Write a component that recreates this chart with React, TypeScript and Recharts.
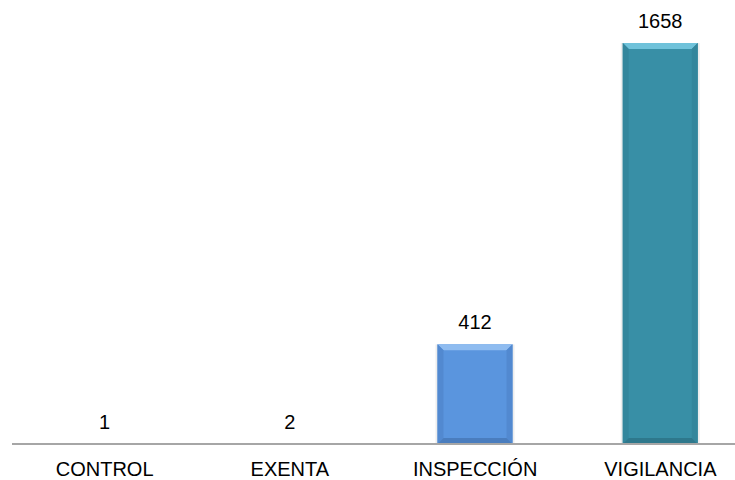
import React from 'react';
import { BarChart, Bar, XAxis, YAxis, LabelList } from 'recharts';

const categories = ['CONTROL', 'EXENTA', 'INSPECCIÓN', 'VIGILANCIA'];
const totals = [1, 2, 412, 1658];

// main, top bevel, side bevel, bottom bevel
const palette: Record<string, string[]> = {
  CONTROL: ['#5A95DE', '#8FBCF0', '#5289D0', '#4A7DBE'],
  EXENTA: ['#5A95DE', '#8FBCF0', '#5289D0', '#4A7DBE'],
  'INSPECCIÓN': ['#5A95DE', '#8FBCF0', '#5289D0', '#4A7DBE'],
  VIGILANCIA: ['#388FA6', '#6FC2DA', '#33869C', '#2E788C'],
};

const rows = categories.map((name, i) => ({ name, total: totals[i] }));

function BevelBar(props: any) {
  const { x, y, width: w, height: h, payload } = props;
  if (!h || h <= 0) return null;
  const [main, top, side, bottom] = palette[payload.name];
  const b = Math.min(6, h / 2, w / 2);
  return (
    <g>
      <rect x={x - 2} y={y} width={w + 4} height={h + 1} fill="#000" opacity={0.07} />
      <rect x={x} y={y} width={w} height={h} fill={main} />
      <polygon points={`${x},${y} ${x + w},${y} ${x + w - b},${y + b} ${x + b},${y + b}`} fill={top} />
      <polygon points={`${x},${y} ${x + b},${y + b} ${x + b},${y + h - b} ${x},${y + h}`} fill={side} />
      <polygon points={`${x + w},${y} ${x + w - b},${y + b} ${x + w - b},${y + h - b} ${x + w},${y + h}`} fill={side} />
      <polygon points={`${x},${y + h} ${x + b},${y + h - b} ${x + w - b},${y + h - b} ${x + w},${y + h}`} fill={bottom} />
    </g>
  );
}

export default function App() {
  return (
    <div style={{ position: 'absolute', left: 0, top: 0, width: 735, height: 480, overflow: 'hidden', background: '#fff' }}>
      <BarChart
        width={760}
        height={480}
        data={rows}
        margin={{ top: 43, right: 7, bottom: 0, left: 12 }}
        barSize={75}
        style={{ fontFamily: '"Liberation Sans", Arial, sans-serif' }}
      >
        <XAxis
          dataKey="name"
          height={36}
          axisLine={{ stroke: '#A6A6A6', strokeWidth: 2 }}
          tickLine={false}
          tickMargin={12}
          interval={0}
          tick={{ fill: '#000', fontSize: 20 }}
        />
        <YAxis hide domain={[0, 1658]} />
        <Bar dataKey="total" shape={<BevelBar />} isAnimationActive={false}>
          <LabelList dataKey="total" position="top" offset={15} fill="#000" style={{ fontSize: 20 }} />
        </Bar>
      </BarChart>
    </div>
  );
}
